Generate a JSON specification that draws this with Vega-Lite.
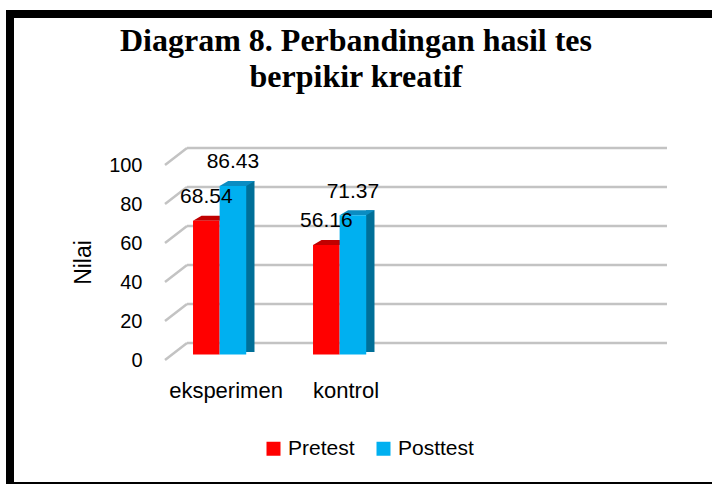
{
  "$schema": "https://vega.github.io/schema/vega-lite/v6.json",
  "width": 706,
  "height": 472,
  "autosize": {"type": "none"},
  "padding": {"left": 10, "top": 14, "right": -4, "bottom": -2},
  "background": "white",
  "config": {
    "view": {"stroke": "black", "strokeWidth": 8, "fill": "white"},
    "font": "Liberation Sans"
  },
  "title": {
    "text": ["Diagram 8. Perbandingan hasil tes", "berpikir kreatif"],
    "font": "Liberation Serif",
    "fontSize": 32,
    "fontWeight": "bold",
    "lineHeight": 36,
    "color": "black",
    "anchor": "middle",
    "frame": "group",
    "orient": "top",
    "baseline": "top",
    "offset": 0,
    "dx": -7,
    "dy": 80
  },
  "datasets": {
    "bars": [
      {"kelompok": "eksperimen", "tes": "Pretest", "nilai": 68.54},
      {"kelompok": "eksperimen", "tes": "Posttest", "nilai": 86.43},
      {"kelompok": "kontrol", "tes": "Pretest", "nilai": 56.16},
      {"kelompok": "kontrol", "tes": "Posttest", "nilai": 71.37}
    ],
    "grid": [
      {"nilai": 0}, {"nilai": 20}, {"nilai": 40}, {"nilai": 60}, {"nilai": 80}, {"nilai": 100}
    ]
  },
  "encoding": {
    "y": {
      "field": "nilai",
      "type": "quantitative",
      "scale": {"domain": [-64.615, 177.436], "nice": false, "zero": false},
      "axis": {
        "values": [0, 20, 40, 60, 80, 100],
        "offset": -155,
        "labelPadding": 23,
        "ticks": false,
        "domain": false,
        "grid": false,
        "labelFontSize": 20,
        "labelColor": "black",
        "labelFont": "Liberation Sans",
        "title": "Nilai",
        "titleFont": "Liberation Sans",
        "titleFontSize": 23,
        "titleFontWeight": "normal",
        "titleColor": "black",
        "titlePadding": 13,
        "titleY": 248
      }
    }
  },
  "layer": [
    {
      "data": {"name": "grid"},
      "mark": {"type": "rule", "color": "#c3c3c3", "strokeWidth": 2.5, "yOffset": -17, "xOffset": 22, "x2Offset": 22},
      "encoding": {
        "x": {"datum": 0, "type": "quantitative", "scale": {"domain": [-1.2917, 4.5917], "nice": false, "zero": false}, "axis": null},
        "x2": {"datum": 4}
      }
    },
    {
      "data": {"name": "grid"},
      "mark": {"type": "rule", "color": "#c3c3c3", "strokeWidth": 2.5, "x2Offset": 22, "y2Offset": -17},
      "encoding": {
        "x": {"datum": 0, "type": "quantitative", "scale": {"domain": [-1.2917, 4.5917], "nice": false, "zero": false}, "axis": null},
        "x2": {"datum": 0},
        "y2": {"field": "nilai"}
      }
    },
    {
      "data": {"name": "bars"},
      "transform": [{"filter": "datum.tes == 'Posttest'"}],
      "mark": {"type": "bar", "color": "#006f98", "yOffset": -10.5, "y2Offset": -8},
      "encoding": {
        "x": {"field": "kelompok", "type": "nominal", "scale": {"domain": ["d0", "eksperimen", "kontrol", "k3", "k4"], "paddingInner": 0.92917, "paddingOuter": 0.90625, "align": 0.5333}, "axis": null},
        "y2": {"datum": 0}
      }
    },
    {
      "data": {"name": "bars"},
      "transform": [{"filter": "datum.tes == 'Pretest'"}],
      "mark": {"type": "point", "shape": "M-13.3,0L13.3,0L21.8,-5L-4.8,-5Z", "size": 4, "filled": true, "opacity": 1, "strokeWidth": 0, "yOffset": -5.5, "color": "#c00000"},
      "encoding": {
        "x": {"field": "kelompok", "type": "nominal", "scale": {"domain": ["eksperimen", "kontrol", "k3", "k4"], "paddingInner": 0.1133, "paddingOuter": 0.9983, "align": 0.6795}, "axis": null},
        "xOffset": {"field": "tes", "type": "nominal", "scale": {"domain": ["Pretest", "Posttest"], "paddingInner": 0, "paddingOuter": 1, "align": 0.38}}
      }
    },
    {
      "data": {"name": "bars"},
      "transform": [{"filter": "datum.tes == 'Posttest'"}],
      "mark": {"type": "point", "shape": "M-13.3,0L13.3,0L21.8,-5L-4.8,-5Z", "size": 4, "filled": true, "opacity": 1, "strokeWidth": 0, "yOffset": -5.5, "color": "#0a8cc2"},
      "encoding": {
        "x": {"field": "kelompok", "type": "nominal", "scale": {"domain": ["eksperimen", "kontrol", "k3", "k4"], "paddingInner": 0.1133, "paddingOuter": 0.9983, "align": 0.6795}, "axis": null},
        "xOffset": {"field": "tes", "type": "nominal", "scale": {"domain": ["Pretest", "Posttest"], "paddingInner": 0, "paddingOuter": 1, "align": 0.38}}
      }
    },
    {
      "data": {"name": "bars"},
      "mark": {"type": "bar", "yOffset": -5.5, "y2Offset": -5.5},
      "encoding": {
        "x": {
          "field": "kelompok", "type": "nominal",
          "scale": {"domain": ["eksperimen", "kontrol", "k3", "k4"], "paddingInner": 0.1133, "paddingOuter": 0.9983, "align": 0.6795},
          "axis": {
            "orient": "bottom",
            "offset": -126,
            "labelPadding": 30,
            "labelBaseline": "middle",
            "labelAngle": 0,
            "ticks": false,
            "domain": false,
            "grid": false,
            "title": null,
            "labelFontSize": 22,
            "labelColor": "black",
            "labelFont": "Liberation Sans",
            "labelExpr": "datum.value == 'eksperimen' || datum.value == 'kontrol' ? datum.value : ''"
          }
        },
        "xOffset": {"field": "tes", "type": "nominal", "scale": {"domain": ["Pretest", "Posttest"], "paddingInner": 0, "paddingOuter": 1, "align": 0.38}},
        "y2": {"datum": 0},
        "color": {
          "field": "tes", "type": "nominal",
          "scale": {"domain": ["Pretest", "Posttest"], "range": ["#ff0000", "#00b0f0"]},
          "legend": {
            "orient": "none",
            "legendX": 253,
            "legendY": 424,
            "direction": "horizontal",
            "title": null,
            "symbolType": "square",
            "symbolSize": 196,
            "symbolStrokeWidth": 0,
            "labelFontSize": 21,
            "labelColor": "black",
            "labelFont": "Liberation Sans",
            "labelOffset": 4,
            "columnPadding": 18,
            "padding": 0
          }
        }
      }
    },
    {
      "data": {"name": "bars"},
      "mark": {"type": "text", "dy": -23, "fontSize": 21, "color": "black", "baseline": "alphabetic", "align": "center", "font": "Liberation Sans"},
      "encoding": {
        "x": {"field": "kelompok", "type": "nominal", "scale": {"domain": ["eksperimen", "kontrol", "k3", "k4"], "paddingInner": 0.1133, "paddingOuter": 0.9983, "align": 0.6795}, "axis": null},
        "xOffset": {"field": "tes", "type": "nominal", "scale": {"domain": ["Pretest", "Posttest"], "paddingInner": 0, "paddingOuter": 1, "align": 0.38}},
        "text": {"field": "nilai", "type": "quantitative", "format": ".2f"}
      }
    }
  ],
  "resolve": {"scale": {"x": "independent"}, "axis": {"x": "independent"}}
}
